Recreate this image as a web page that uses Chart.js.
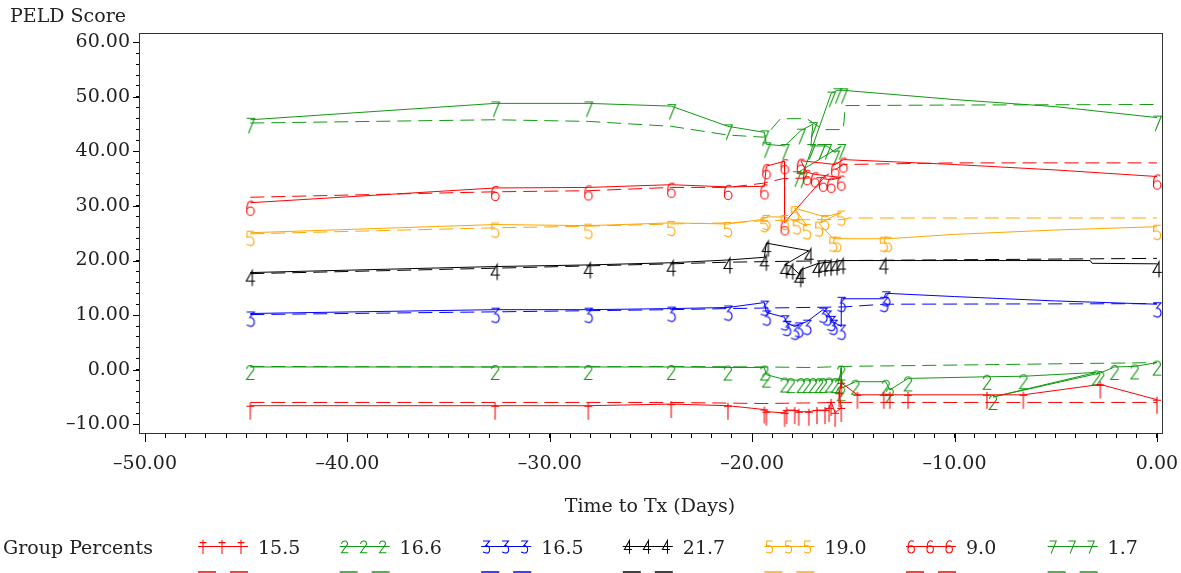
<!DOCTYPE html>
<html>
<head>
<meta charset="utf-8">
<script src="https://cdn.jsdelivr.net/npm/chart.js@4/dist/chart.umd.min.js"></script>
<style>
  html, body { margin: 0; padding: 0; background: #fff; }
  #wrap { width: 1181px; height: 573px; }
</style>
</head>
<body>
<div id="wrap"><canvas id="peldChart" width="1181" height="573"></canvas></div>
<script>
// group labels (percent of patients in each trajectory group)
const groupPercents = ['15.5', '16.6', '16.5', '21.7', '19.0', '9.0', '1.7'];

// observed means per group: [days to Tx, PELD score], in data order
// a third value of 0 marks a bend of the line with no symbol
const g1Obs = [[-44.8,-6.6],[-32.7,-6.6],[-28.1,-6.6],[-24.0,-6.3],[-21.2,-6.6],[-19.4,-7.3],[-19.3,-7.7],[-18.4,-7.9],
  [-18.3,-7.4],[-17.9,-7.4],[-17.7,-7.7],[-17.2,-7.7],[-16.8,-7.4],[-16.4,-7.4],[-16.2,-7.0],[-16.1,-5.9],[-15.9,-7.9],
  [-15.6,-7.0],[-15.7,-4.3],[-15.6,-2.4],[-14.8,-4.6],[-13.5,-4.6],[-13.2,-4.6],[-12.3,-4.6],[-8.4,-4.6],[-6.6,-4.6],
  [-2.8,-2.7],[0.0,-5.5]];
const g2Obs = [[-44.8,0.5],[-32.7,0.5],[-28.1,0.5],[-24.0,0.5],[-21.2,0.4],[-19.4,0.4],[-19.3,-0.9],[-18.4,-1.8],
  [-18.1,-1.9],[-17.6,-1.9],[-17.3,-1.9],[-17.0,-1.9],[-16.7,-1.9],[-16.5,-1.9],[-16.2,-1.8],[-15.9,-1.9],[-15.7,-2.0],
  [-15.6,0.4],[-15.6,-3.4],[-14.9,-2.2],[-13.4,-2.2],[-13.2,-3.7],[-12.3,-1.6],[-8.4,-1.3],[-6.6,-1.2],[-3.0,-0.5],
  [-8.1,-5.0],[-2.8,-0.6],[-2.1,0.5],[-1.1,0.6],[0.0,1.3]];
const g3Obs = [[-44.8,10.3],[-32.7,11.0],[-28.1,11.0],[-24.0,11.2],[-21.2,11.4],[-19.4,12.3],[-19.3,10.5],[-18.4,9.6],
  [-18.3,8.6],[-17.9,7.9],[-17.7,8.3],[-17.3,8.8],[-16.5,11.0],[-16.3,10.5],[-16.1,9.5],[-16.0,8.8],[-15.6,7.9],
  [-15.6,13.0],[-13.5,13.0],[-13.4,14.0],[-10.0,13.4,0],[-5.0,12.6,0],[0.0,12.0]];
const g4Obs = [[-44.8,17.8],[-32.7,18.9],[-28.1,19.2],[-24.0,19.6],[-21.2,20.1],[-19.4,20.6],[-19.3,23.2],[-17.2,21.8],
  [-18.4,19.2],[-18.1,19.0],[-17.7,17.6],[-17.6,18.3],[-16.8,19.4],[-16.5,19.6],[-16.2,19.7],[-15.9,19.8],[-15.6,20.0],
  [-13.5,20.0],[-3.3,20.0,0],[-3.2,19.5,0],[0.0,19.4]];
const g5Obs = [[-44.8,25.1],[-32.7,26.6],[-28.1,26.4],[-24.0,26.9],[-21.2,26.7],[-19.4,27.6],[-19.3,28.0],[-18.4,28.0],
  [-17.8,27.2],[-17.3,26.3],[-17.9,29.6],[-16.4,28.0],[-15.6,28.8],[-16.7,26.8],[-16.0,24.0],[-15.8,24.0],[-13.5,24.0],
  [-13.3,24.0],[-10.0,24.8,0],[-5.0,25.6,0],[0.0,26.2]];
const g6Obs = [[-44.8,30.6],[-32.7,33.3],[-28.1,33.4],[-24.0,33.9],[-21.2,33.5],[-19.4,33.6],[-19.3,37.3],[-18.4,38.2],
  [-18.4,27.0],[-16.5,35.0],[-16.1,34.8],[-15.6,35.2],[-16.9,35.8],[-17.3,36.2],[-17.6,38.3],[-15.9,37.6],[-15.5,38.5],
  [-10.0,37.6,0],[-5.0,36.6,0],[0.0,35.4]];
const g7Obs = [[-44.8,45.8],[-32.7,48.8],[-28.1,48.8],[-24.0,48.3],[-21.2,44.6],[-19.4,43.5],[-19.3,41.3],[-18.4,41.0],
  [-17.6,43.8],[-17.0,45.0],[-17.1,41.0],[-16.6,41.0],[-16.3,41.0],[-15.9,39.8],[-15.6,41.0],[-17.8,36.0],[-17.5,35.8],
  [-16.1,50.6],[-15.8,51.2],[-15.5,51.2],[-10.0,49.5,0],[-5.0,48.2,0],[0.0,46.2]];

// fitted trajectories per group
const g1Fit = [[-44.8,-6.0],[-24.0,-6.0],[-19.4,-6.2],[-15.5,-6.0],[0.0,-6.0]];
const g2Fit = [[-44.8,0.6],[-32.7,0.5],[-24.0,0.6],[-19.4,0.5],[-17.0,0.4],[-15.5,0.6],[0.0,1.3]];
const g3Fit = [[-44.8,10.1],[-32.7,10.6],[-24.0,11.0],[-21.2,11.2],[-19.4,11.3],[-15.5,11.5],[-13.5,12.0],[0.0,12.1]];
const g4Fit = [[-44.8,17.6],[-32.7,18.6],[-24.0,19.4],[-21.2,19.7],[-19.4,19.8],[-15.5,20.0],[0.0,20.4]];
const g5Fit = [[-44.8,24.9],[-32.7,26.0],[-28.1,26.3],[-24.0,26.7],[-21.2,26.9],[-19.4,27.3],[-17.0,27.5],[-15.5,27.5],[-15.2,27.8],[0.0,27.8]];
const g6Fit = [[-44.8,31.6],[-32.7,32.6],[-28.1,32.8],[-24.0,33.4],[-21.2,33.4],[-19.4,34.2],[-18.5,35.0],[-16.5,35.2],[-15.5,37.6],[-10.0,37.9],[0.0,37.9]];
const g7Fit = [[-44.8,45.2],[-32.7,45.8],[-28.1,45.5],[-24.0,44.6],[-21.2,43.0],[-19.4,42.6],[-18.6,46.0],[-17.3,46.0],[-16.5,44.0],[-15.5,44.0],[-15.4,48.4],[-10.0,48.5],[0.0,48.6]];

const xTicks = [-50, -40, -30, -20, -10, 0];
const yTicks = [-10, 0, 10, 20, 30, 40, 50, 60];

const colors = ['#ff0000', '#119911', '#0000ff', '#000000', '#ffa500', '#ff0000', '#119911'];
const FONT = '"DejaVu Serif", serif';
const TXT = '#222';

// stroke-font digits like the SAS symbols
function drawGlyph(ctx, d) {
  ctx.beginPath();
  switch (d) {
    case 1:
      ctx.moveTo(4, -1); ctx.lineTo(4, 16);
      ctx.moveTo(0, 2.5); ctx.lineTo(8, 2.5);
      break;
    case 2:
      ctx.moveTo(0.5, 4);
      ctx.bezierCurveTo(0.5, -0.8, 8, -0.8, 7.5, 4.5);
      ctx.lineTo(0.3, 14.5); ctx.lineTo(8.3, 14.5);
      break;
    case 3:
      ctx.moveTo(0.3, 0.5); ctx.lineTo(8, 0.5); ctx.lineTo(3.5, 6);
      ctx.bezierCurveTo(9.5, 5.5, 9.5, 15.5, 4, 14.8);
      ctx.lineTo(0.3, 13.5);
      break;
    case 4:
      ctx.moveTo(6, 15.5); ctx.lineTo(6, 0); ctx.lineTo(0, 10.5); ctx.lineTo(8.8, 10.5);
      break;
    case 5:
      ctx.moveTo(7.8, 0.5); ctx.lineTo(1, 0.5); ctx.lineTo(0.6, 6.5);
      ctx.bezierCurveTo(9.5, 3.5, 9.5, 15.5, 4, 14.8);
      ctx.lineTo(0.3, 13.5);
      break;
    case 6:
      ctx.moveTo(7.3, 1.2);
      ctx.bezierCurveTo(3, -1.5, 0.3, 2, 0.5, 10);
      ctx.moveTo(8, 10.5);
      ctx.ellipse(4.2, 10.5, 3.8, 4.2, 0, 0, Math.PI * 2);
      break;
    case 7:
      ctx.moveTo(0.3, 0.5); ctx.lineTo(8.3, 0.5); ctx.lineTo(2.2, 15.5);
      break;
  }
  ctx.stroke();
}

function markerImage(d, color) {
  const c = document.createElement('canvas');
  c.width = 12; c.height = 34;
  const ctx = c.getContext('2d');
  ctx.strokeStyle = color;
  ctx.lineWidth = 1.1;
  ctx.translate(2, 15);
  drawGlyph(ctx, d);
  return c;
}

const obsSeries = [g1Obs, g2Obs, g3Obs, g4Obs, g5Obs, g6Obs, g7Obs];
const fitSeries = [g1Fit, g2Fit, g3Fit, g4Fit, g5Fit, g6Fit, g7Fit];

const datasets = [];
obsSeries.forEach((obs, i) => {
  datasets.push({
    label: groupPercents[i],
    data: obs.map(p => ({ x: p[0], y: p[1], m: p[2] === 0 ? 0 : 1 })),
    showLine: true,
    borderColor: colors[i],
    borderWidth: 1,
    pointStyle: markerImage(i + 1, colors[i]),
    pointRadius: ctx => (ctx.raw && ctx.raw.m === 0 ? 0 : 6)
  });
  datasets.push({
    label: groupPercents[i] + ' fit',
    data: fitSeries[i].map(p => ({ x: p[0], y: p[1] })),
    showLine: true,
    borderColor: colors[i],
    borderWidth: 1,
    borderDash: [14, 7],
    pointRadius: 0
  });
});

function range(a, b, step) {
  const out = [];
  for (let v = a; v <= b + 1e-9; v += step) out.push({ value: Math.round(v * 100) / 100 });
  return out;
}

function fmt(v) {
  const s = Math.abs(v).toFixed(2);
  return v < 0 ? '\u2013' + s : s;
}

const decorations = {
  id: 'decorations',
  afterDraw(chart) {
    const ctx = chart.ctx;
    const a = chart.chartArea;
    const xs = chart.scales.x, ys = chart.scales.y;
    ctx.save();
    // frame
    ctx.strokeStyle = '#333';
    ctx.lineWidth = 1;
    ctx.strokeRect(Math.round(a.left) + 0.5, Math.round(a.top) + 0.5, Math.round(a.right - a.left), Math.round(a.bottom - a.top));
    // longer major ticks
    ctx.beginPath();
    xTicks.forEach(v => {
      const px = Math.round(xs.getPixelForValue(v)) + 0.5;
      ctx.moveTo(px, a.bottom); ctx.lineTo(px, a.bottom + 9);
    });
    yTicks.forEach(v => {
      const py = Math.round(ys.getPixelForValue(v)) + 0.5;
      ctx.moveTo(a.left, py); ctx.lineTo(a.left - 6, py);
    });
    ctx.strokeStyle = '#000';
    ctx.stroke();

    // titles
    ctx.fillStyle = TXT;
    ctx.font = '19px ' + FONT;
    ctx.textBaseline = 'middle';
    ctx.textAlign = 'left';
    ctx.fillText('PELD Score', 10, 17);
    ctx.textAlign = 'center';
    ctx.fillText('Time to Tx (Days)', 650, 507);
    ctx.textAlign = 'left';
    ctx.fillText('Group Percents', 3, 549);

    // legend
    groupPercents.forEach((lab, i) => {
      const x0 = 198 + i * 141.6;
      const y = 546.5;
      ctx.setLineDash([]);
      ctx.strokeStyle = colors[i];
      ctx.lineWidth = 1;
      ctx.beginPath();
      ctx.moveTo(x0, y); ctx.lineTo(x0 + 50, y);
      ctx.stroke();
      [5, 24, 43].forEach(dx => {
        ctx.save();
        ctx.strokeStyle = colors[i];
        ctx.translate(x0 + dx - 3.4, y - 6);
        ctx.scale(0.85, 0.85);
        ctx.lineWidth = 1.2;
        drawGlyph(ctx, i + 1);
        ctx.restore();
      });
      ctx.strokeStyle = colors[i];
      ctx.globalAlpha = 0.75;
      ctx.lineWidth = 2;
      ctx.beginPath();
      ctx.moveTo(x0, 572); ctx.lineTo(x0 + 18, 572);
      ctx.moveTo(x0 + 32, 572); ctx.lineTo(x0 + 50, 572);
      ctx.stroke();
      ctx.globalAlpha = 1;
      ctx.fillStyle = TXT;
      ctx.fillText(lab, x0 + 60, 549);
    });
    ctx.restore();
  }
};

new Chart(document.getElementById('peldChart'), {
  type: 'scatter',
  data: { datasets: datasets },
  options: {
    responsive: false,
    animation: false,
    devicePixelRatio: 1,
    layout: { padding: { top: 33, right: 19, left: 0, bottom: 0 } },
    plugins: { legend: { display: false }, tooltip: { enabled: false }, title: { display: false } },
    scales: {
      x: {
        type: 'linear',
        min: -50.3,
        max: 0.25,
        afterBuildTicks: s => { s.ticks = range(-50, 0, 1); },
        afterFit: s => { s.height = 140; s.paddingLeft = 0; s.paddingRight = 0; },
        grid: { display: true, drawOnChartArea: false, drawTicks: true, tickLength: 5, color: '#000' },
        border: { display: true, color: '#000' },
        ticks: {
          autoSkip: false, maxRotation: 0, minRotation: 0, padding: 15,
          color: TXT, font: { family: FONT, size: 19 },
          callback: v => (Math.abs(v % 10) < 1e-6 ? fmt(v) : '')
        }
      },
      y: {
        type: 'linear',
        min: -11.6,
        max: 61.7,
        afterBuildTicks: s => { s.ticks = range(-10, 60, 2); },
        afterFit: s => { s.width = 139; s.paddingTop = 0; s.paddingBottom = 0; },
        grid: { display: true, drawOnChartArea: false, drawTicks: true, tickLength: 3, color: '#000' },
        border: { display: true, color: '#000' },
        ticks: {
          autoSkip: false, padding: 6,
          color: TXT, font: { family: FONT, size: 19 },
          callback: v => (Math.abs(v % 10) < 1e-6 ? fmt(v) : '')
        }
      }
    }
  },
  plugins: [decorations]
});
</script>
</body>
</html>
